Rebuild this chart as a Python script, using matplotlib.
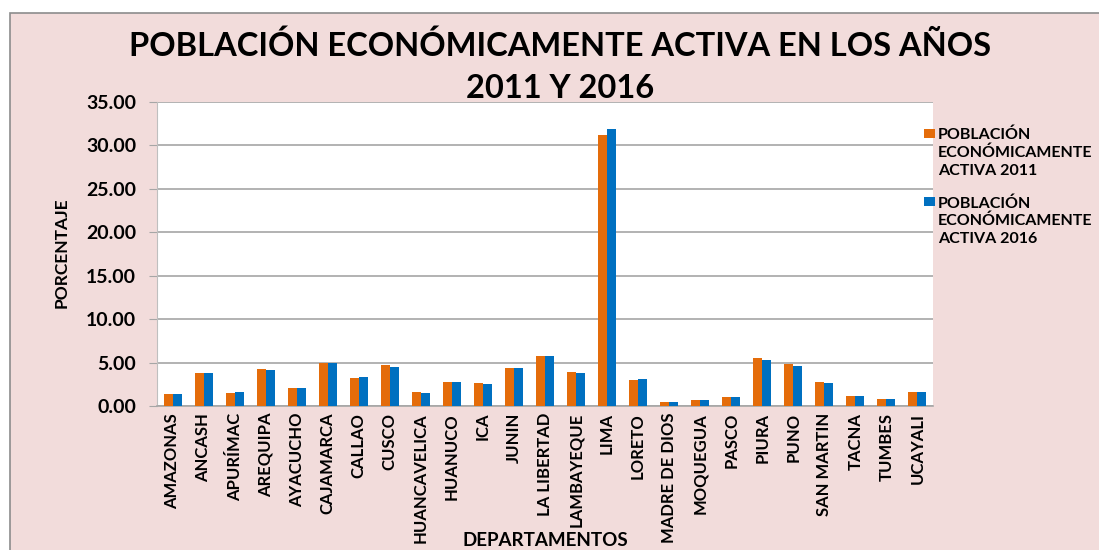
import matplotlib.pyplot as plt
import numpy as np
from matplotlib.patches import Rectangle

# ── Data ──────────────────────────────────────────────────────────────────────
DEPARTAMENTOS = ["AMAZONAS", "ANCASH", "APURÍMAC", "AREQUIPA", "AYACUCHO",
                 "CAJAMARCA", "CALLAO", "CUSCO", "HUANCAVELICA", "HUANUCO",
                 "ICA", "JUNIN", "LA LIBERTAD", "LAMBAYEQUE", "LIMA", "LORETO",
                 "MADRE DE DIOS", "MOQUEGUA", "PASCO", "PIURA", "PUNO",
                 "SAN MARTIN", "TACNA", "TUMBES", "UCAYALI"]

PEA_2011 = [1.42, 3.78, 1.50, 4.28, 2.10, 5.00, 3.20, 4.70, 1.58, 2.80,
            2.60, 4.38, 5.70, 3.95, 31.20, 3.00, 0.45, 0.68, 0.98, 5.50,
            4.85, 2.80, 1.10, 0.80, 1.60]
PEA_2016 = [1.42, 3.78, 1.60, 4.18, 2.10, 5.00, 3.30, 4.50, 1.52, 2.80,
            2.50, 4.38, 5.78, 3.83, 31.85, 3.10, 0.45, 0.68, 0.98, 5.35,
            4.66, 2.70, 1.10, 0.80, 1.60]

LABEL_2011 = "POBLACIÓN\nECONÓMICAMENTE\nACTIVA 2011"
LABEL_2016 = "POBLACIÓN\nECONÓMICAMENTE\nACTIVA 2016"

COLOR_2011 = "#E46C0A"
COLOR_2016 = "#0070C0"
BG_PINK = "#F2DCDB"

W, H = 1099, 550

plt.rcParams["font.family"] = ["Lato", "DejaVu Sans"]
plt.rcParams["font.weight"] = "bold"

fig = plt.figure(figsize=(W / 100, H / 100), dpi=100)
fig.patch.set_facecolor("white")

# chart frame (pink area)
fig.patches.append(Rectangle((10 / W, -0.1), 1.2, 1 - 13 / H + 0.1,
                             transform=fig.transFigure, facecolor=BG_PINK,
                             edgecolor="#8C8C8C", linewidth=1.2, zorder=-5))

ax = fig.add_axes([157 / W, 1 - 406 / H, (933 - 157) / W, (406 - 102) / H])
ax.set_zorder(1)
ax.set_facecolor("white")

x = np.arange(len(DEPARTAMENTOS))
w = 0.29
ax.bar(x - w / 2, PEA_2011, w, color=COLOR_2011, zorder=3)
ax.bar(x + w / 2, PEA_2016, w, color=COLOR_2016, zorder=3)

ax.set_xlim(-0.5, len(DEPARTAMENTOS) - 0.5)
ax.set_ylim(0, 35)
yt = np.arange(0, 35.01, 5)
ax.set_yticks(yt)
ax.set_yticklabels([f"{v:.2f}" for v in yt], fontsize=14, fontweight="bold")
ax.set_xticks(x)
ax.set_xticklabels(DEPARTAMENTOS, rotation=90, fontsize=12, fontweight="bold")
ax.tick_params(axis="x", length=0, pad=5)
ax.tick_params(axis="y", length=6, color="#A6A6A6", pad=9)

ax.grid(axis="y", color="#A6A6A6", linewidth=1.2, zorder=0)
for s in ["top", "right"]:
    ax.spines[s].set_visible(False)
ax.spines["left"].set_color("#BFBFBF")
ax.spines["bottom"].set_color("#A6A6A6")
ax.spines["bottom"].set_linewidth(1.2)

fig.text(62 / W, 1 - 253 / H, "PORCENTAJE", rotation=90, ha="center",
         va="center", fontsize=12.5, fontweight="bold")
fig.text(545 / W, 1 - 541 / H, "DEPARTAMENTOS", ha="center", va="center",
         fontsize=13.5, fontweight="bold")

fig.text(0.51, 1 - 30 / H, "POBLACIÓN ECONÓMICAMENTE ACTIVA EN LOS AÑOS\n2011 Y 2016",
         ha="center", va="top", fontsize=23.5, fontweight="bold",
         linespacing=1.55)

# legend, marker beside the first line of each entry
for label, color, ytop in [(LABEL_2011, COLOR_2011, 128), (LABEL_2016, COLOR_2016, 196)]:
    fig.patches.append(Rectangle((924 / W, 1 - (ytop + 10) / H), 11 / W, 9 / H,
                                 transform=fig.transFigure, facecolor=color,
                                 edgecolor="none", zorder=5))
    fig.text(938 / W, 1 - ytop / H, label, ha="left", va="top",
             fontsize=11.5, fontweight="bold", linespacing=1.3)

fig.savefig("out.png", dpi=100)
plt.close()
